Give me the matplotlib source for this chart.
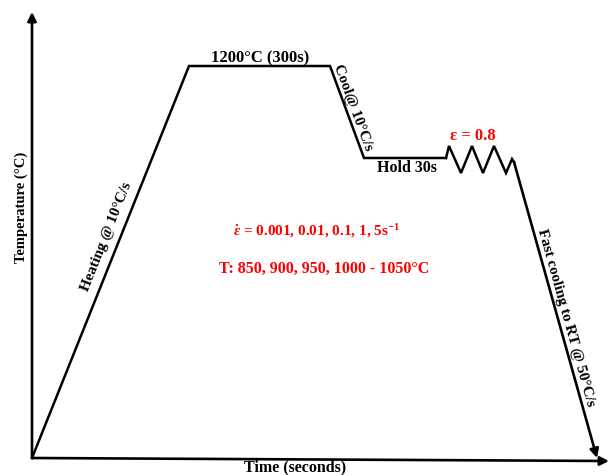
import matplotlib.pyplot as plt

plt.rcParams['font.family'] = ['Liberation Serif', 'DejaVu Serif']
plt.rcParams['font.weight'] = 'bold'
plt.rcParams['mathtext.fontset'] = 'custom'
plt.rcParams['mathtext.rm'] = 'Liberation Serif:bold'
plt.rcParams['mathtext.it'] = 'Liberation Serif:italic:bold'
plt.rcParams['mathtext.bf'] = 'Liberation Serif:bold'

# schematic thermal cycle (time, temperature) in drawing units
cycle_t = [32, 189, 330, 364, 446]
cycle_T = [17, 409, 409, 317, 317]

# deformation zigzag after the hold
zig_t = [446, 449, 461, 472, 483, 494, 506, 512, 514]
zig_T = [317, 329, 302, 329, 302, 329, 302, 316, 313]

# final quench end point
quench_end = (597, 17)

origin = (32, 17)
y_axis_top = (32, 463)
x_axis_end = (609, 14)

fig = plt.figure(figsize=(6.09, 4.75), dpi=100)
ax = fig.add_axes([0, 0, 1, 1])
ax.set_xlim(0, 609)
ax.set_ylim(0, 475)
ax.axis('off')

ax.plot(cycle_t, cycle_T, color='black', lw=1.8, solid_joinstyle='miter')
ax.plot(zig_t, zig_T, color='black', lw=1.8, solid_joinstyle='miter')

arrow = dict(arrowstyle='-|>', color='black', lw=1.9, mutation_scale=13,
             shrinkA=0, shrinkB=0)
ax.annotate('', xy=quench_end, xytext=(zig_t[-1], zig_T[-1]), arrowprops=arrow)
ax.annotate('', xy=y_axis_top, xytext=origin, arrowprops=arrow)
ax.annotate('', xy=x_axis_end, xytext=origin, arrowprops=arrow)

fs = 11.5
ax.text(260, 417, '1200°C (300s)', ha='center', va='center', fontsize=12)
ax.text(353, 367, 'Cool@ 10°C/s', ha='center', va='center', fontsize=11,
        rotation=-69.7, rotation_mode='anchor')
ax.text(407, 307, 'Hold 30s', ha='center', va='center', fontsize=fs)
ax.text(473, 339, 'ε = 0.8', ha='center', va='center', fontsize=12,
        color='red')
ax.text(317, 244, r'$\dot{\varepsilon}$ = 0.001, 0.01, 0.1, 1, 5s$^{-1}$',
        ha='center', va='center', fontsize=11, color='red')
ax.text(324, 206, 'T: 850, 900, 950, 1000 - 1050°C', ha='center',
        va='center', fontsize=fs, color='red')
ax.text(107, 238, 'Heating @ 10°C/s', ha='center', va='center', fontsize=11,
        rotation=68.2, rotation_mode='anchor')
ax.text(566, 157, 'Fast cooling to RT @ 50°C/s', ha='center', va='center',
        fontsize=11, rotation=-74.4, rotation_mode='anchor')
ax.text(21, 268, 'Temperature (°C)', ha='center', va='center', fontsize=10.5,
        rotation=90)
ax.text(295, 8, 'Time (seconds)', ha='center', va='center', fontsize=fs)

fig.savefig('out.png', dpi=100)
